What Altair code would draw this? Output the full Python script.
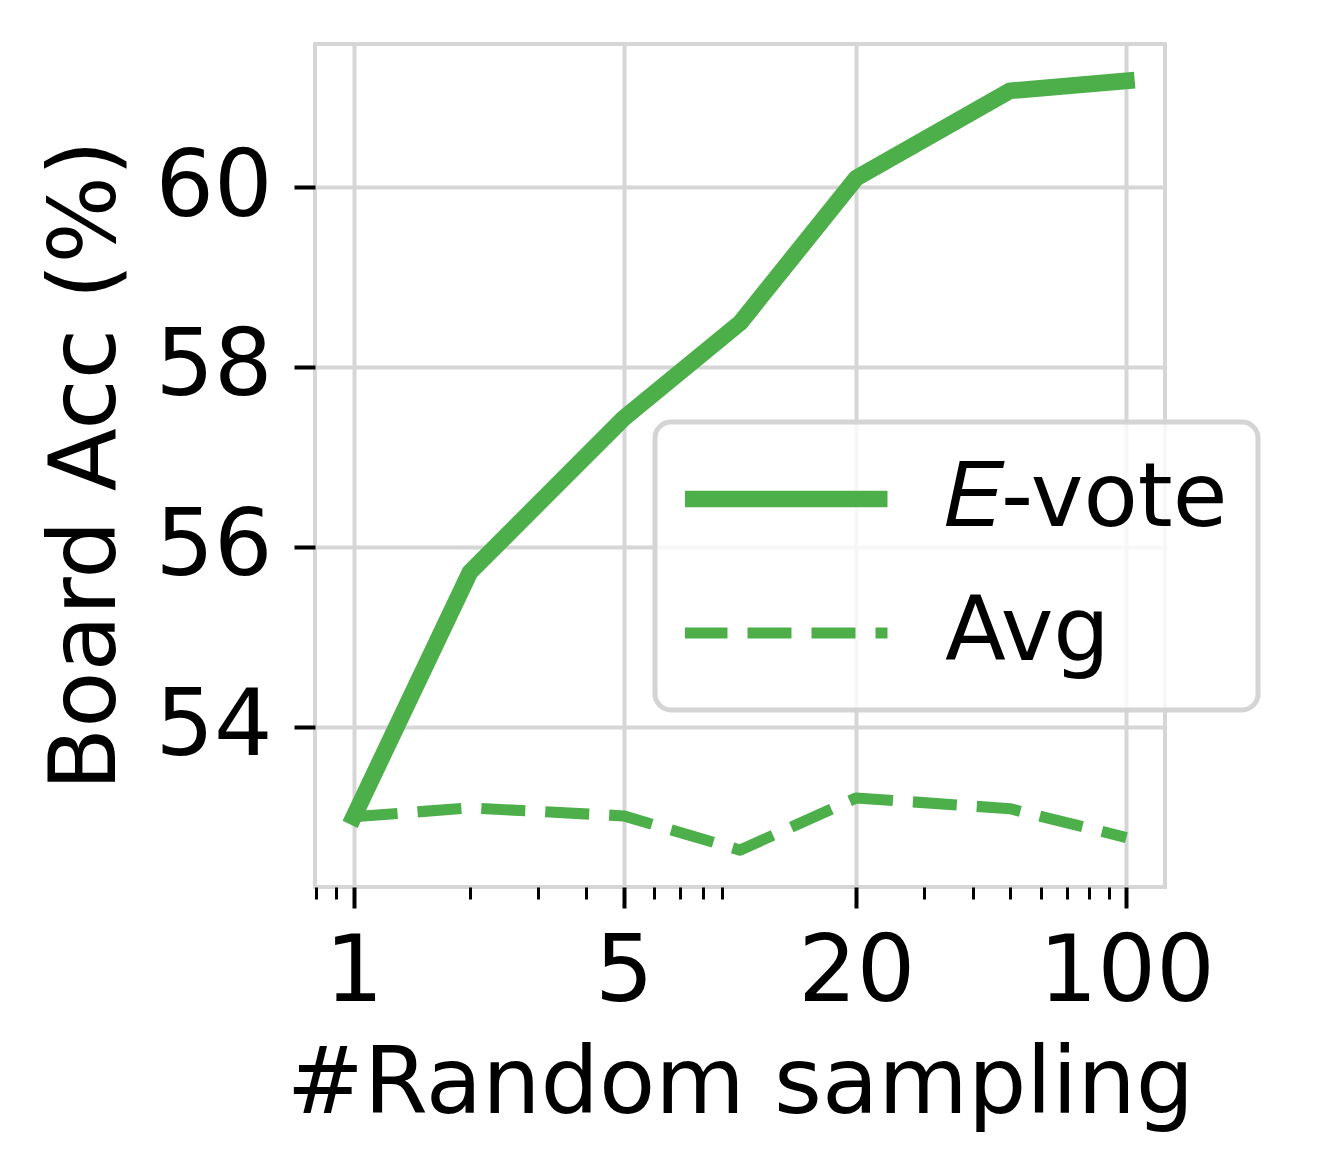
import json
import altair as alt
import pandas as pd

# ---- data ----
samples = [1, 2, 5, 10, 20, 50, 100]
evote_acc = [53.0, 55.72, 57.43, 58.49, 60.10, 61.07, 61.18]
avg_acc = [53.0, 53.10, 53.01, 52.63, 53.21, 53.09, 52.77]
series_names = ["𝐸-vote", "Avg"]

x_major_ticks = [1, 5, 20, 100]
x_minor_ticks = [0.8, 0.9, 2, 3, 4, 6, 7, 8, 9, 30, 40, 50, 60, 70, 80, 90]
y_ticks = [54, 56, 58, 60]

rows = []
for s, e, a in zip(samples, evote_acc, avg_acc):
    rows.append({"n": s, "acc": e, "series": series_names[0]})
    rows.append({"n": s, "acc": a, "series": series_names[1]})
df = pd.DataFrame(rows)

GREEN = "#4daf4a"
FONT = "DejaVu Sans"
GRID = "#d6d6d6"
FS = 92

major_js = json.dumps(x_major_ticks)
is_major = f"indexof({major_js}, datum.value) >= 0"

x_axis = alt.Axis(
    values=sorted(x_major_ticks + x_minor_ticks),
    labelExpr=f"{is_major} ? format(datum.value, 'd') : ''",
    labelOverlap=False,
    labelFlush=False,
    labelFont=FONT,
    labelFontSize=FS,
    labelColor="black",
    labelBaseline="alphabetic",
    labelPadding=92,
    domain=False,
    tickColor="black",
    tickSize={"condition": {"test": is_major, "value": 21}, "value": 12},
    tickWidth={"condition": {"test": is_major, "value": 4}, "value": 3},
    grid=True,
    gridColor=GRID,
    gridWidth=4,
    gridOpacity={"condition": {"test": is_major, "value": 1}, "value": 0},
    title="#Random sampling",
    titleFont=FONT,
    titleFontSize=FS,
    titleFontWeight="normal",
    titleColor="black",
    titleBaseline="alphabetic",
    titleY=225,
)

y_axis = alt.Axis(
    values=y_ticks,
    format="d",
    labelFont=FONT,
    labelFontSize=FS,
    labelColor="black",
    labelPadding=22,
    domain=False,
    tickColor="black",
    tickSize=21,
    tickWidth=4,
    grid=True,
    gridColor=GRID,
    gridWidth=4,
    title="Board Acc (%)",
    titleFont=FONT,
    titleFontSize=FS,
    titleFontWeight="normal",
    titleColor="black",
    titleAngle=270,
    titleAlign="center",
    titleBaseline="alphabetic",
    titleX=-201,
    titleY=421,
)

legend = alt.Legend(
    title=None,
    orient="none",
    legendX=340,
    legendY=378,
    symbolType="stroke",
    symbolSize=41616,
    symbolOffset=-10,
    clipHeight=94,
    labelFont=FONT,
    labelFontSize=89,
    labelColor="black",
    labelOffset=49,
    labelLimit=0,
    rowPadding=40,
    padding=30,
    fillColor="rgba(255,255,255,0.8)",
    strokeColor="#d4d4d4",
    cornerRadius=16,
)

base = alt.Chart(df).encode(
    x=alt.X("n:Q", scale=alt.Scale(type="log", domain=[0.794, 125.9], nice=False), axis=x_axis),
    y=alt.Y("acc:Q", scale=alt.Scale(domain=[52.22, 61.59], nice=False, zero=False), axis=y_axis),
    color=alt.Color(
        "series:N",
        scale=alt.Scale(domain=series_names, range=[GREEN, GREEN]),
        legend=legend,
    ),
    strokeDash=alt.StrokeDash(
        "series:N",
        scale=alt.Scale(domain=series_names, range=[[10000, 0], [44, 20]]),
        legend=legend,
    ),
    strokeWidth=alt.StrokeWidth(
        "series:N",
        scale=alt.Scale(domain=series_names, range=[16.7, 11.1]),
        legend=legend,
    ),
)

solid = base.transform_filter(alt.datum.series == series_names[0]).mark_line(
    strokeCap="square", strokeJoin="round", clip=False
)
dashed = base.transform_filter(alt.datum.series == series_names[1]).mark_line(
    strokeCap="butt", strokeJoin="round", clip=False
)

chart = (
    alt.layer(solid, dashed)
    .properties(
        width=850,
        height=843,
        autosize=alt.AutoSizeParams(type="none"),
        padding={"left": 307, "top": 36, "right": 150, "bottom": 280},
        background="white",
    )
    .configure_view(stroke=GRID, strokeWidth=4)
    .configure_legend(strokeWidth=5, cornerRadius=16)
)

chart.save("out.html", embed_options={"renderer": "svg", "actions": False})
